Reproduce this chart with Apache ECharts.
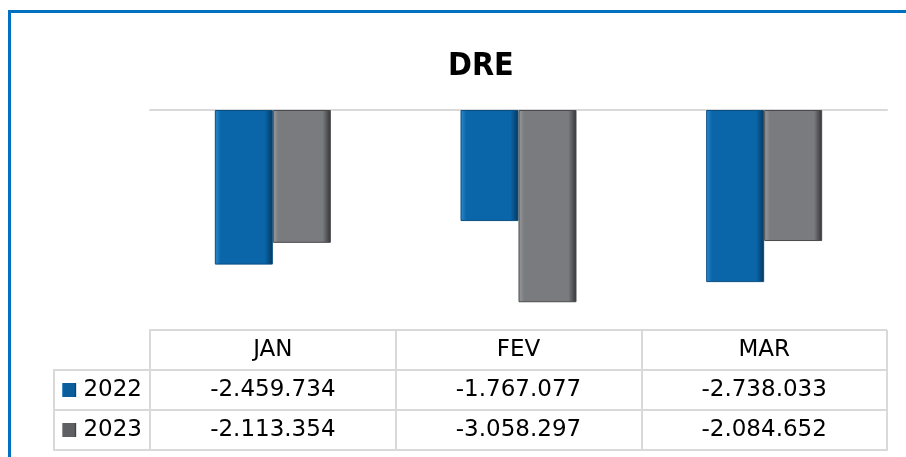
<!DOCTYPE html>
<html>
<head>
<meta charset="utf-8">
<script src="https://cdn.jsdelivr.net/npm/echarts@6/dist/echarts.min.js"></script>
<style>
  html, body { margin: 0; padding: 0; background: #fff; }
  #main { width: 906px; height: 457px; }
</style>
</head>
<body>
<div id="main"></div>
<script>
let months = ['JAN', 'FEV', 'MAR'];
let years = ['2022', '2023'];
let values2022 = [-2459734, -1767077, -2738033];
let values2023 = [-2113354, -3058297, -2084652];
let rowNames = ['head', '2022', '2023'];

// formato brasileiro: -2.459.734
function fmt(v) {
    let s = Math.abs(v).toString().replace(/\B(?=(\d{3})+(?!\d))/g, '.');
    return (v < 0 ? '-' : '') + s;
}

function barColor(light, base, dark) {
    return {
        type: 'linear', x: 0, y: 0, x2: 1, y2: 0,
        colorStops: [
            {offset: 0, color: light},
            {offset: 0.1, color: base},
            {offset: 0.86, color: base},
            {offset: 1, color: dark}
        ]
    };
}

// celulas da tabela
let tableData = [];
for (let i = 0; i < months.length; i++) {
    tableData.push([i, 0, months[i]]);
    tableData.push([i, 1, fmt(values2022[i])]);
    tableData.push([i, 2, fmt(values2023[i])]);
}

let gridLine = {color: '#D9D9D9', width: 2};
let txtFont = 'DejaVu Sans';

let mainchart = echarts.init(document.getElementById('main'));
let chart_config = {
    animation: false,
    title: {
        text: 'DRE',
        left: 443,
        top: 46,
        textStyle: {fontFamily: '"DejaVu Sans Condensed", "Liberation Sans", sans-serif', fontWeight: 'bold', fontSize: 32, color: '#000'}
    },
    grid: [
        {left: 150, top: 110, width: 737, height: 220},
        {left: 150, top: 330, width: 737, height: 120}
    ],
    xAxis: [
        {
            type: 'category', gridIndex: 0, data: months,
            axisLine: {lineStyle: gridLine},
            axisTick: {show: false},
            axisLabel: {show: false}
        },
        {
            type: 'category', gridIndex: 1, data: months,
            axisLine: {lineStyle: gridLine},
            axisTick: {show: false},
            axisLabel: {show: false},
            splitLine: {show: true, lineStyle: gridLine}
        }
    ],
    yAxis: [
        {type: 'value', gridIndex: 0, min: -3500000, max: 0, show: false},
        {
            type: 'category', gridIndex: 1, data: rowNames, inverse: true,
            axisLine: {lineStyle: gridLine},
            axisTick: {show: false},
            splitLine: {show: true, lineStyle: gridLine},
            axisLabel: {
                margin: 8,
                fontFamily: txtFont,
                fontSize: 23,
                color: '#000',
                formatter: function (v) {
                    if (v === '2022') return '{a|} 2022';
                    if (v === '2023') return '{b|} 2023';
                    return '';
                },
                rich: {
                    a: {width: 14, height: 14, backgroundColor: barColor('#2C86C9', '#0A5E9C', '#063A63')},
                    b: {width: 14, height: 14, backgroundColor: barColor('#8a8b8e', '#5f6063', '#333')}
                }
            }
        }
    ],
    series: [
        {
            name: years[0], type: 'bar', xAxisIndex: 0, yAxisIndex: 0,
            data: values2022, barWidth: 58, barGap: '0%',
            itemStyle: {color: barColor('#2E8BD0', '#0A66A8', '#05375E'), borderColor: '#0A4F82', borderWidth: 1}
        },
        {
            name: years[1], type: 'bar', xAxisIndex: 0, yAxisIndex: 0,
            data: values2023, barWidth: 58, barGap: '0%',
            itemStyle: {color: barColor('#9a9b9e', '#7A7B7E', '#333335'), borderColor: '#4a4a4c', borderWidth: 1}
        },
        {
            type: 'scatter', xAxisIndex: 1, yAxisIndex: 1,
            data: tableData, symbolSize: 1,
            itemStyle: {color: 'rgba(0,0,0,0)', opacity: 1},
            label: {
                show: true, position: 'inside',
                fontFamily: txtFont, fontSize: 23, color: '#000',
                textBorderWidth: 0,
                formatter: function (p) { return p.data[2]; }
            }
        }
    ],
    graphic: [
        // moldura azul
        {type: 'rect', shape: {x: 9.5, y: 11.5, width: 1000, height: 1000},
         style: {fill: 'none', stroke: '#0070C0', lineWidth: 3}},
        // coluna da legenda
        {type: 'rect', shape: {x: 54, y: 370, width: 96, height: 80},
         style: {fill: 'none', stroke: '#D9D9D9', lineWidth: 2}},
        {type: 'line', shape: {x1: 54, y1: 410, x2: 150, y2: 410},
         style: {stroke: '#D9D9D9', lineWidth: 2}}
    ]
};
mainchart.setOption(chart_config);
</script>
</body>
</html>
